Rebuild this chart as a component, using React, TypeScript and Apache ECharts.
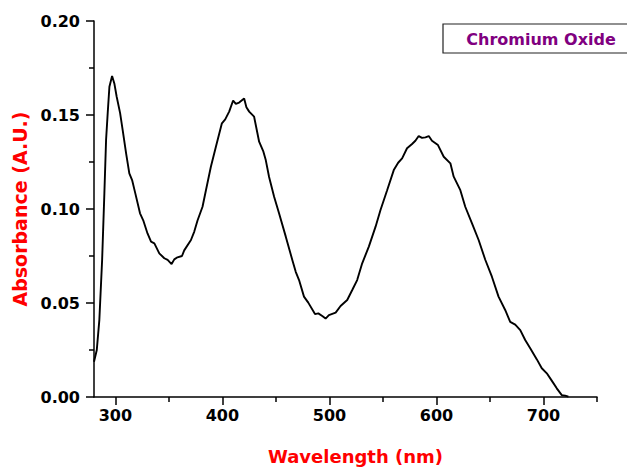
import React, { useEffect, useRef } from "react";
import * as echarts from "echarts";

const wavelength = [
  280, 282.6, 285, 287.6, 289.7, 291.3, 292.8, 294.4, 296.9, 299, 301.2, 304.4, 306.8, 310, 313,
  315.6, 318.6, 323, 326, 330, 333.3, 336.4, 341, 345.7, 348.8, 352.5, 355, 358, 362.2, 364.3,
  370.6, 373.7, 376.8, 381.4, 384.6, 389.2, 393.9, 399.5, 402.6, 406.3, 410, 412.5, 415.6, 420.3,
  422.4, 425, 429.6, 432.7, 434.3, 438.3, 440.5, 443.6, 448.3, 452.9, 459.2, 465.3, 468.5, 471.6,
  476.2, 480.2, 486.5, 489.6, 493.3, 496.4, 499.5, 505.8, 510.4, 516.6, 521.3, 525.9, 530.6,
  536.8, 543.1, 547.7, 553.9, 560.1, 564.2, 567.9, 572.5, 577.2, 580.3, 583.4, 586.5, 589.7,
  592.8, 595.8, 601.4, 606.8, 613, 616.1, 622.3, 626.9, 633.2, 639.4, 645.6, 651.8, 658,
  664.2, 668.9, 673.6, 678.3, 682.9, 687.6, 693.8, 698.4, 703.1, 707.7, 712.4, 717.1, 720.2, 723.3,
];

const absorbance = [
  0.0188, 0.025, 0.041, 0.073, 0.1085, 0.137, 0.151, 0.165, 0.1707, 0.1668, 0.1597, 0.151, 0.142,
  0.1296, 0.119, 0.1154, 0.1083, 0.0977, 0.094, 0.087, 0.0826, 0.0817, 0.0764, 0.0738, 0.0729,
  0.0707, 0.0732, 0.0743, 0.075, 0.078, 0.0835, 0.088, 0.094, 0.1012, 0.11, 0.1225, 0.1331, 0.1456,
  0.1477, 0.1518, 0.1577, 0.1559, 0.1566, 0.1588, 0.1541, 0.1518, 0.1491, 0.1403, 0.1358, 0.1305,
  0.126, 0.117, 0.1065, 0.0977, 0.0853, 0.0729, 0.0666, 0.0622, 0.0534, 0.0502, 0.0441, 0.0445,
  0.0431, 0.0417, 0.0436, 0.0449, 0.0484, 0.0516, 0.0569, 0.0622, 0.0711, 0.08, 0.0906, 0.0995,
  0.11, 0.1207, 0.1246, 0.1269, 0.1323, 0.1346, 0.1363, 0.1388, 0.1378, 0.1381, 0.1388, 0.1363,
  0.134, 0.1278, 0.1243, 0.1172, 0.11, 0.1012, 0.0924, 0.0835, 0.073, 0.064, 0.0534,
  0.0463, 0.04, 0.0385, 0.0356, 0.0303, 0.0259, 0.02, 0.0153, 0.0126, 0.0087, 0.0046, 0.001,
  0.0007, 0.0002,
];

const xMajorTicks = [300, 400, 500, 600, 700];
const xMinorTicks = [350, 450, 550, 650, 750];
const seriesName = "Chromium Oxide";

const FONT = "DejaVu Sans";

export default function App() {
  const ref = useRef<HTMLDivElement>(null);
  useEffect(() => {
    if (!ref.current) return;
    const chart = echarts.init(ref.current, undefined, { renderer: "svg" });
    const data = wavelength.map((w, i) => [w, absorbance[i]]);
    chart.setOption({
      animation: false,
      backgroundColor: "#ffffff",
      grid: { left: 94, right: 30, top: 21, bottom: 73, containLabel: false },
      xAxis: [
        {
          type: "value",
          min: 280,
          max: 750,
          position: "bottom",
          name: "Wavelength (nm)",
          nameLocation: "middle",
          nameGap: 50,
          nameTextStyle: {
            color: "#ff0000",
            fontFamily: FONT,
            fontWeight: "bold",
            fontSize: 18,
            padding: [0, 0, 0, 20],
          },
          axisLine: { show: true, lineStyle: { color: "#000", width: 1.5 } },
          axisTick: {
            show: true,
            inside: false,
            length: 8,
            customValues: xMajorTicks,
            lineStyle: { color: "#000", width: 1.5 },
          },
          axisLabel: {
            show: true,
            customValues: xMajorTicks,
            margin: 10,
            color: "#000",
            fontFamily: FONT,
            fontWeight: "bold",
            fontSize: 16,
          },
          splitLine: { show: false },
        },
        {
          type: "value",
          min: 280,
          max: 750,
          position: "bottom",
          axisLine: { show: false },
          axisTick: {
            show: true,
            inside: false,
            length: 5,
            customValues: xMinorTicks,
            lineStyle: { color: "#000", width: 1.5 },
          },
          axisLabel: { show: false },
          splitLine: { show: false },
        },
      ],
      yAxis: {
        type: "value",
        min: 0,
        max: 0.2,
        interval: 0.05,
        name: "Absorbance (A.U.)",
        nameLocation: "middle",
        nameGap: 63,
        nameTextStyle: {
          color: "#ff0000",
          fontFamily: FONT,
          fontWeight: "bold",
          fontSize: 19,
        },
        axisLine: { show: true, lineStyle: { color: "#000", width: 1.5 } },
        axisTick: { show: true, inside: false, length: 8, lineStyle: { color: "#000", width: 1.5 } },
        minorTick: { show: true, splitNumber: 2, length: 5, lineStyle: { color: "#000", width: 1.5 } },
        axisLabel: {
          margin: 14,
          color: "#000",
          fontFamily: FONT,
          fontWeight: "bold",
          fontSize: 16,
          formatter: (v: number) => v.toFixed(2),
        },
        splitLine: { show: false },
      },
      graphic: [
        {
          type: "rect",
          shape: { x: 443, y: 24, width: 200, height: 29 },
          style: { fill: "#ffffff", stroke: "#222", lineWidth: 1.2 },
          z: 10,
        },
        {
          type: "text",
          x: 541,
          y: 39,
          style: {
            text: seriesName,
            fill: "#800080",
            font: `bold 16px "${FONT}"`,
            textAlign: "center",
            textVerticalAlign: "middle",
          },
          z: 11,
        },
      ],
      series: [
        {
          name: seriesName,
          type: "line",
          xAxisIndex: 0,
          data,
          symbol: "none",
          smooth: false,
          lineStyle: { color: "#000", width: 1.9 },
        },
      ],
    });
    return () => chart.dispose();
  }, []);
  return (
    <div
      ref={ref}
      style={{ position: "fixed", left: 0, top: 0, width: 627, height: 470 }}
    />
  );
}
